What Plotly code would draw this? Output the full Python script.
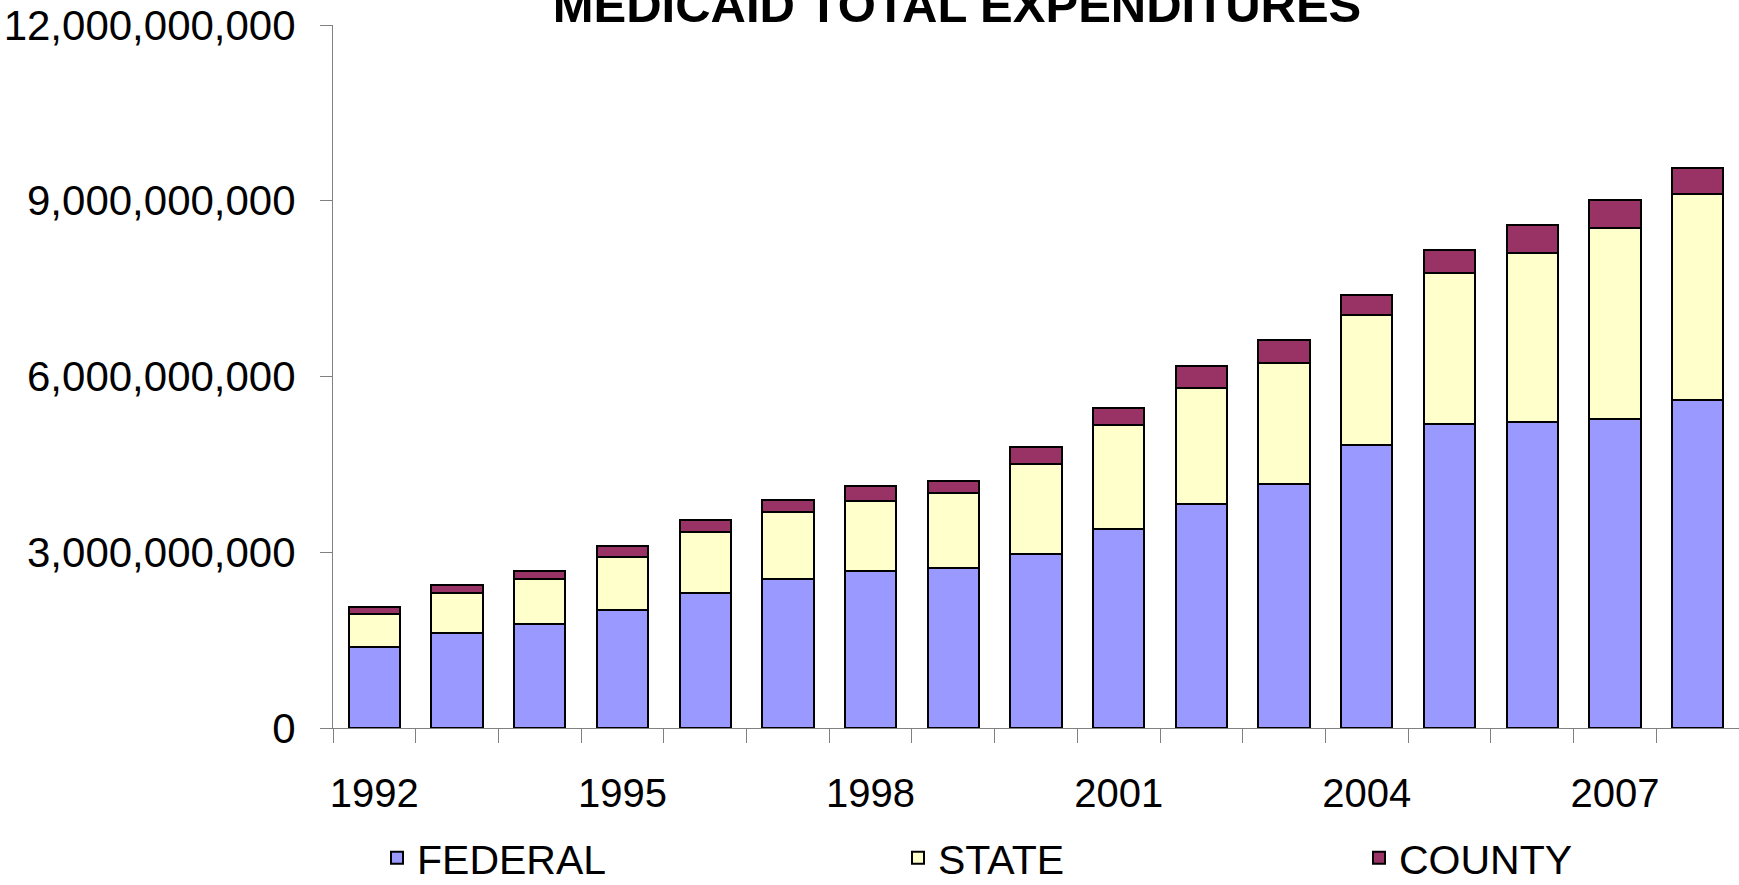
import plotly.graph_objects as go

years = list(range(1992, 2009))
federal = [1.388e9, 1.627e9, 1.775e9, 2.019e9, 2.304e9, 2.543e9, 2.685e9, 2.726e9, 2.962e9,
           3.399e9, 3.831e9, 4.163e9, 4.838e9, 5.184e9, 5.223e9, 5.270e9, 5.602e9]
state = [0.558e9, 0.671e9, 0.768e9, 0.905e9, 1.042e9, 1.144e9, 1.183e9, 1.294e9, 1.536e9,
         1.772e9, 1.968e9, 2.068e9, 2.208e9, 2.583e9, 2.884e9, 3.262e9, 3.512e9]
county = [0.120e9, 0.148e9, 0.142e9, 0.188e9, 0.210e9, 0.198e9, 0.256e9, 0.196e9, 0.300e9,
          0.295e9, 0.386e9, 0.392e9, 0.342e9, 0.386e9, 0.478e9, 0.483e9, 0.437e9]
xtick_vals = [1992, 1995, 1998, 2001, 2004, 2007]
xtick_text = ["1992", "1995", "1998", "2001", "2004", "2007"]
ytick_vals = [0, 3e9, 6e9, 9e9, 12e9]

FONT = "Liberation Sans, Arial, sans-serif"
W, H = 1739, 885

fig = go.Figure()
series = [("FEDERAL", federal, "#9999FF", "legend"),
          ("STATE", state, "#FFFFCC", "legend2"),
          ("COUNTY", county, "#993366", "legend3")]
for name, vals, col, lg in series:
    fig.add_trace(go.Bar(x=years, y=vals, name=name, legend=lg, showlegend=True,
                         marker=dict(color=col, line=dict(color="black", width=2))))

legend_common = dict(orientation="h", xref="container", yref="container",
                     yanchor="middle", y=1 - 858 / H, xanchor="left",
                     font=dict(family=FONT, size=41, color="black"),
                     bgcolor="rgba(0,0,0,0)", borderwidth=0, visible=True)

fig.update_layout(
    width=W, height=H,
    barmode="stack", bargap=0.38,
    showlegend=True,
    plot_bgcolor="white", paper_bgcolor="white",
    margin=dict(l=333, r=0, t=25, b=157, autoexpand=False),
    title=dict(text="<b>MEDICAID TOTAL EXPENDITURES</b>", x=957 / W, xanchor="center",
               xref="container", yref="container", y=1 - 22 / H, yanchor="bottom",
               font=dict(family=FONT, size=49, color="black")),
    legend=dict(x=377 / W, **legend_common),
    legend2=dict(x=898 / W, **legend_common),
    legend3=dict(x=1359 / W, **legend_common),
    font=dict(family=FONT, color="black"),
)
fig.update_xaxes(range=[1991.5, 2008.5], tickmode="array", tickvals=xtick_vals, ticktext=xtick_text,
                 ticks="", showgrid=False, zeroline=False, showline=True, linecolor="#808080",
                 linewidth=1, ticklabelstandoff=30, automargin=False,
                 tickfont=dict(family=FONT, size=40, color="black"),
                 minor=dict(tick0=1991.5, dtick=1, ticks="outside", ticklen=14,
                            tickcolor="#808080", tickwidth=1, showgrid=False))
fig.update_yaxes(range=[0, 12e9], tickmode="array", tickvals=ytick_vals, tickformat=",",
                 ticks="outside", ticklen=12, tickcolor="#808080", tickwidth=1,
                 showgrid=False, zeroline=False, showline=True, linecolor="#808080", linewidth=1,
                 ticklabelstandoff=16, automargin=False,
                 tickfont=dict(family=FONT, size=42, color="black"))

fig.write_html("out.html", config={"displayModeBar": False},
               post_script="document.body.style.margin='0';")
